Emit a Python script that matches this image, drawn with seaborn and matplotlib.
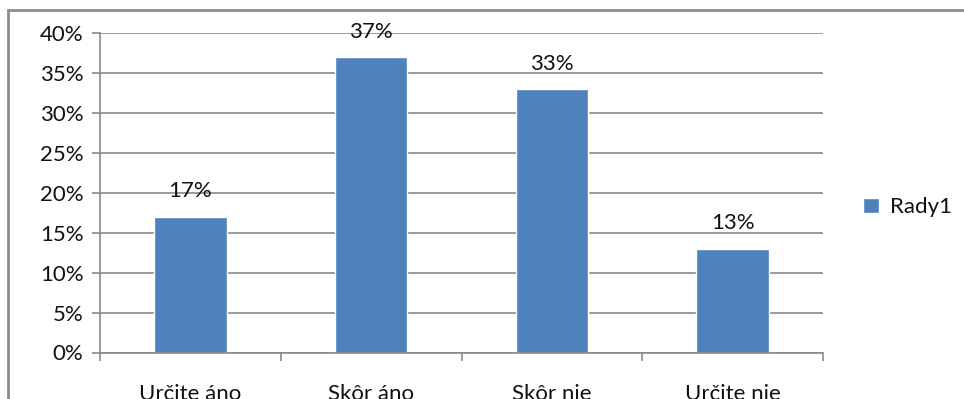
import matplotlib
matplotlib.use("Agg")
import matplotlib.pyplot as plt
from matplotlib.patches import Rectangle
from matplotlib.ticker import MultipleLocator, FuncFormatter, FixedLocator
import seaborn as sns
import pandas as pd

categories = ["Určite áno", "Skôr áno", "Skôr nie", "Určite nie"]
values = [17, 37, 33, 13]
series_name = "Rady1"

sns.set_theme(style="white")
plt.rcParams["font.family"] = ["Lato", "DejaVu Sans"]
text_color = "#111111"
grid_color = "#8a8a8a"
bar_color = "#4F81BD"
fs = 16

df = pd.DataFrame({"kategoria": categories, "podiel": values, "rad": series_name})

W, H = 964, 399
fig = plt.figure(figsize=(W / 100, H / 100), dpi=100)
ax = fig.add_axes([100 / W, 1 - 352.5 / H, (823 - 100) / W, (352.5 - 33) / H])

sns.barplot(data=df, x="kategoria", y="podiel", hue="rad", palette=[bar_color],
            width=0.40, saturation=1, ax=ax, legend=True)

ax.set_ylim(0, 40)
ax.set_xlim(-0.5, len(categories) - 0.5)
ax.yaxis.set_major_locator(MultipleLocator(5))
ax.yaxis.set_major_formatter(FuncFormatter(lambda v, p: f"{v:.0f}%"))
ax.grid(axis="y", color=grid_color, linewidth=1.2)
ax.set_axisbelow(True)
ax.set_xlabel("")
ax.set_ylabel("")

for side in ("top", "right"):
    ax.spines[side].set_visible(False)
for side in ("left", "bottom"):
    ax.spines[side].set_color(grid_color)
    ax.spines[side].set_linewidth(1.2)

ax.tick_params(axis="y", which="major", direction="out", length=6, width=1.2,
               color=grid_color, labelsize=fs, labelcolor=text_color, pad=6, left=True)
ax.xaxis.set_minor_locator(FixedLocator([i - 0.5 for i in range(len(categories) + 1)]))
ax.tick_params(axis="x", which="minor", direction="out", length=6, width=1.2,
               color=grid_color, bottom=True)
ax.tick_params(axis="x", which="major", length=0, labelsize=fs,
               labelcolor=text_color, pad=23)

for i, v in enumerate(values):
    ax.annotate(f"{v}%", (i, v), xytext=(0, 11), textcoords="offset points",
                ha="center", va="bottom", fontsize=fs, color=text_color)

leg = ax.legend(loc="center left", bbox_to_anchor=(1.028, 0.455), frameon=False,
                fontsize=fs, handlelength=0.7, handleheight=0.7, handletextpad=0.5,
                labelcolor=text_color)

# chart frame
fig.add_artist(Rectangle((8 / W, -0.2), 1.2, 1.2 - 10 / H,
                         transform=fig.transFigure, fill=False,
                         edgecolor="#8c8c8c", linewidth=2))

fig.savefig("out.png", dpi=100)
